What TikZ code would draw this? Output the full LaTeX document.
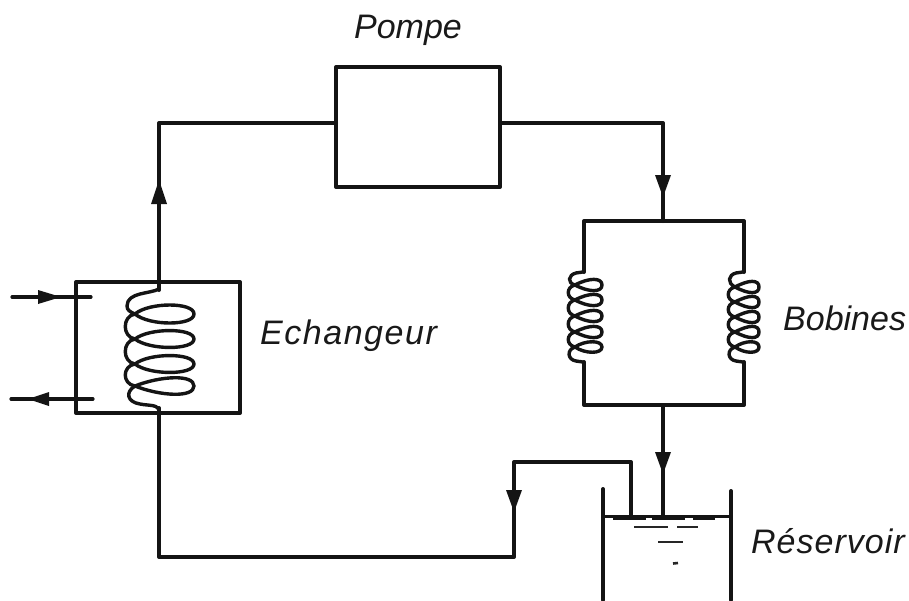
\documentclass[tikz,border=0pt]{standalone}
\usepackage{fontspec}
\setmainfont{Liberation Sans}
\usetikzlibrary{calc}
\tikzset{
  wire/.style={line width=4pt,line join=round,line cap=round,black!92},
  thinwire/.style={line width=3.2pt,line join=round,line cap=round,black!92},
  boxnode/.style={draw=black!92,line width=4pt,rectangle,inner sep=0pt,line join=round},
  lbl/.style={font=\fontsize{34}{36}\selectfont\itshape,inner sep=0pt,text=black!90},
  head/.style={fill=black!92,draw=none},
  coilline/.style={line width=3.4pt,black!92,line join=round,line cap=round},
  lev/.style={line width=2.2pt,black!85}
}
\newcommand{\tipdown}[2]{\fill[head] (#1-8,#2-22) -- (#1+8,#2-22) -- (#1,#2) -- cycle;}
\newcommand{\tipup}[2]{\fill[head] (#1-8,#2+24) -- (#1+8,#2+24) -- (#1,#2) -- cycle;}
\newcommand{\tipright}[2]{\fill[head] (#1-23,#2-7) -- (#1-23,#2+7) -- (#1,#2) -- cycle;}
\newcommand{\tipleft}[2]{\fill[head] (#1+21,#2-7) -- (#1+21,#2+7) -- (#1,#2) -- cycle;}
\newcommand{\coilloop}[6]{%
  \draw[coilline] (#1,#4) .. controls (#1+14,#4+#3*1.5) and (#2,#4+#3*1.5) .. (#2,#4)
    .. controls (#2,#4-#3*1.5) and (#1+14,#4-#3*1.5) .. (#1,#4)
    .. controls (#5,#4+2) and (#5,#6-2) .. (#1,#6);}
\begin{document}
\begin{tikzpicture}[x=1pt,y=-1pt]
\useasboundingbox (0,0) rectangle (909,600);
% boxes
\node[boxnode,minimum width=164pt,minimum height=120pt] (pump) at (418,127) {};
\node[boxnode,minimum width=164pt,minimum height=131pt] (exch) at (158,347.5) {};
\node[boxnode,minimum width=160pt,minimum height=184pt,draw=none] (bob) at (664,313) {};
% free points
\coordinate (pl) at (336,123);
\coordinate (pr) at (500,123);
\coordinate (tl) at (159,123);
\coordinate (tr) at (663,123);
\coordinate (bt) at (663,221);
\coordinate (bb) at (663,405);
\coordinate (exT) at (159,290);
\coordinate (exB) at (159,408);
\coordinate (ret) at (159,557);
\coordinate (ret2) at (514,557);
\coordinate (ret3) at (514,462);
\coordinate (ret4) at (631,462);
\coordinate (w1) at (631,516);
\coordinate (w2) at (663,516);
% circuit
\draw[wire] (pl) -- (tl) -- (exT);
\draw[wire] (pr) -- (tr) -- (bt);
\draw[wire] (bb) -- (w2);
\draw[wire] (w1) -- (ret4) -- (ret3) -- (ret2) -- (ret) -- (exB);
% bobbins frame
\draw[wire] (584,272) -- (584,221) -- (744,221) -- (744,272);
\draw[wire] (584,362) -- (584,405) -- (744,405) -- (744,362);
% arrowheads
\tipup{159}{180}
\tipdown{663}{197}
\tipdown{663}{474}
\tipdown{514}{512}
\draw[thinwire] (12,297) -- (91,297);
\draw[thinwire] (11,399) -- (93,399);
\tipright{61}{297}
\tipleft{28}{399}
% exchanger coil
\draw[coilline] (159,283) -- (159,289) .. controls (150,294) and (127,292) .. (127,306) .. controls (127,310) and (130,312) .. (135,314);
\coilloop{135}{194}{8}{314}{122}{339}
\coilloop{135}{194}{7.5}{339}{122}{364}
\coilloop{135}{194}{7.5}{364}{122}{386}
\draw[coilline] (135,386) .. controls (160,396) and (194,398) .. (194,386) .. controls (194,374) and (160,376) .. (135,386) .. controls (125,392) and (127,402) .. (140,404) .. controls (150,406) and (159,404) .. (159,412);
% left bobbin
\draw[coilline] (584,270) .. controls (584,273) and (580,272) .. (576,273) .. controls (568,275) and (567,283) .. (575,285);
\coilloop{575}{602}{5}{285}{566}{300}
\coilloop{575}{602}{5}{300}{566}{316}
\coilloop{575}{602}{5}{316}{566}{332}
\coilloop{575}{602}{5}{332}{566}{347}
\draw[coilline] (575,347) .. controls (585,354) and (602,354) .. (602,347) .. controls (602,340) and (585,340) .. (575,347) .. controls (566,350) and (568,360) .. (576,361) .. controls (580,362) and (584,361) .. (584,364);
% right bobbin
\draw[coilline] (744,270) .. controls (744,273) and (740,272) .. (736,273) .. controls (728,275) and (727,283) .. (735,287);
\coilloop{735}{759}{5}{287}{726}{302}
\coilloop{735}{759}{5}{302}{726}{317}
\coilloop{735}{759}{5}{317}{726}{332}
\coilloop{735}{759}{5}{332}{726}{347}
\draw[coilline] (735,347) .. controls (745,354) and (759,354) .. (759,347) .. controls (759,340) and (745,340) .. (735,347) .. controls (726,350) and (728,360) .. (736,361) .. controls (740,362) and (744,361) .. (744,364);
% reservoir
\coordinate (tankTL) at (603,489);
\coordinate (tankTR) at (731,491);
\coordinate (tankBL) at (603,600);
\coordinate (tankBR) at (731,600);
\draw[wire] (tankTL) -- (tankBL);
\draw[wire] (tankTR) -- (tankBR);
\draw[line width=3pt,black!92] (603,516) -- (731,516);
\draw[line width=4.4pt,black!92] (613,518) -- (646,518) (652,518) -- (685,518) (693,518) -- (715,518);
\draw[lev] (634,527) -- (668,527) (677,527) -- (698,527) (658,542) -- (683,542);
\draw[line width=2.6pt,black!85] (673,563.5) -- (678,563);
% labels
\node[lbl] (lpompe) at (408,30) {Pompe};
\node[lbl,anchor=west] (lech) at (260,336) {\addfontfeature{LetterSpace=4.5}Echangeur};
\node[lbl,anchor=west] (lbob) at (783,318) {Bobines};
\node[lbl,anchor=west] (lres) at (751,541) {\addfontfeature{LetterSpace=3}Réservoir};
\end{tikzpicture}
\end{document}
